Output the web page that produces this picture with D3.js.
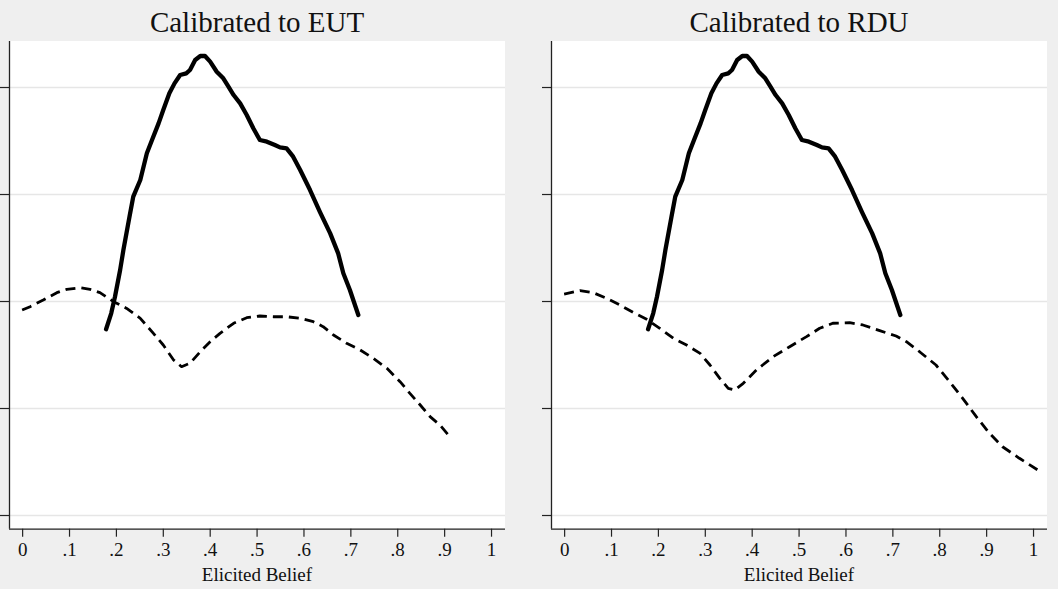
<!DOCTYPE html>
<html>
<head>
<meta charset="utf-8">
<script src="https://cdn.jsdelivr.net/npm/d3@7"></script>
<style>
  html, body { margin: 0; padding: 0; background: #efefef; }
  svg { display: block; }
  text { font-family: "Liberation Serif", "Times New Roman", serif; fill: #111; }
</style>
</head>
<body>
<svg id="chart" width="1058" height="589"></svg>
<script>
// ---------- data ----------
const panelTitles = ["Calibrated to EUT", "Calibrated to RDU"];
const xTickValues = [0, 0.1, 0.2, 0.3, 0.4, 0.5, 0.6, 0.7, 0.8, 0.9, 1];
const xTickLabels = ["0", ".1", ".2", ".3", ".4", ".5", ".6", ".7", ".8", ".9", "1"];
const yTickValues = [0, 1, 2, 3, 4];
const xAxisTitle = "Elicited Belief";

// solid: density of elicited beliefs (same in both panels)
const elicitedX = [0.179, 0.190, 0.198, 0.209, 0.216, 0.229, 0.237, 0.252, 0.266, 0.277, 0.291, 0.301, 0.314, 0.325, 0.337, 0.350, 0.358, 0.369, 0.380, 0.390, 0.401, 0.415, 0.429, 0.440, 0.451, 0.465, 0.479, 0.493, 0.507, 0.522, 0.539, 0.550, 0.564, 0.578, 0.593, 0.614, 0.635, 0.657, 0.674, 0.685, 0.699, 0.717];
const elicitedY = [1.736, 1.885, 2.040, 2.290, 2.477, 2.788, 2.975, 3.131, 3.380, 3.505, 3.660, 3.785, 3.941, 4.034, 4.112, 4.128, 4.159, 4.252, 4.290, 4.290, 4.237, 4.143, 4.081, 4.003, 3.925, 3.847, 3.738, 3.614, 3.505, 3.489, 3.458, 3.436, 3.427, 3.349, 3.224, 3.037, 2.834, 2.632, 2.445, 2.259, 2.103, 1.869];

// dashed: calibrated (EUT)
const eutX = [0.000, 0.017, 0.045, 0.074, 0.095, 0.124, 0.145, 0.166, 0.195, 0.223, 0.252, 0.280, 0.301, 0.323, 0.340, 0.358, 0.380, 0.401, 0.422, 0.451, 0.479, 0.507, 0.536, 0.564, 0.593, 0.621, 0.642, 0.664, 0.692, 0.721, 0.749, 0.778, 0.806, 0.827, 0.849, 0.870, 0.891, 0.909];
const eutY = [1.916, 1.947, 2.009, 2.078, 2.109, 2.124, 2.109, 2.078, 1.994, 1.931, 1.838, 1.698, 1.589, 1.449, 1.386, 1.418, 1.526, 1.620, 1.698, 1.792, 1.844, 1.860, 1.853, 1.853, 1.838, 1.807, 1.760, 1.682, 1.605, 1.542, 1.464, 1.371, 1.246, 1.137, 1.028, 0.919, 0.841, 0.748];

// dashed: calibrated (RDU)
const rduX = [0.000, 0.034, 0.062, 0.091, 0.119, 0.148, 0.176, 0.204, 0.233, 0.261, 0.290, 0.311, 0.332, 0.350, 0.364, 0.382, 0.410, 0.446, 0.481, 0.517, 0.545, 0.573, 0.609, 0.637, 0.673, 0.708, 0.730, 0.758, 0.793, 0.822, 0.850, 0.879, 0.907, 0.935, 0.971, 1.010];
const rduY = [2.065, 2.097, 2.078, 2.025, 1.963, 1.891, 1.829, 1.745, 1.651, 1.589, 1.511, 1.402, 1.277, 1.184, 1.168, 1.231, 1.355, 1.480, 1.573, 1.667, 1.745, 1.792, 1.797, 1.776, 1.723, 1.673, 1.620, 1.526, 1.402, 1.246, 1.090, 0.919, 0.764, 0.638, 0.530, 0.421];

const panelCalibrated = [[eutX, eutY], [rduX, rduY]];

// ---------- drawing ----------
const svg = d3.select("#chart");
const panelLeft = [9, 551];
const plotW = 496;
const plotTop = 41, plotBottom = 528.7;

const zip = (xs, ys) => xs.map((x, i) => [x, ys[i]]);

panelTitles.forEach((title, p) => {
  const g = svg.append("g").attr("transform", `translate(${panelLeft[p]},0)`);
  const x = d3.scaleLinear().domain([-0.028, 1.0298]).range([0, plotW]);
  const y = d3.scaleLinear().domain([-0.128, 4.43]).range([plotBottom, plotTop]);

  g.append("rect").attr("x", 0).attr("y", plotTop).attr("width", plotW)
    .attr("height", plotBottom - plotTop).attr("fill", "#ffffff");

  // gridlines
  g.append("g").attr("class", "grid")
    .call(d3.axisLeft(y).tickValues(yTickValues).tickSize(-plotW).tickFormat(""))
    .call(s => s.select(".domain").remove())
    .call(s => s.selectAll("line").attr("stroke", "#e6e6e6").attr("stroke-width", 1.3));

  // y axis
  g.append("g")
    .call(d3.axisLeft(y).tickValues(yTickValues).tickSize(9).tickFormat(""))
    .call(s => s.select(".domain").attr("stroke", "#222").attr("stroke-width", 1.3)
      .attr("d", `M0.5,${plotTop}V${plotBottom}`))
    .call(s => s.selectAll(".tick line").attr("stroke", "#222").attr("stroke-width", 1.2));

  // x axis
  g.append("g").attr("transform", `translate(0,${plotBottom})`)
    .call(d3.axisBottom(x).tickValues(xTickValues).tickSize(8).tickPadding(6)
      .tickFormat((d, i) => xTickLabels[i]))
    .call(s => s.select(".domain").attr("stroke", "#222").attr("stroke-width", 1.3)
      .attr("d", `M0,0.5H${plotW}`))
    .call(s => s.selectAll(".tick line").attr("stroke", "#222").attr("stroke-width", 1.2))
    .call(s => s.selectAll(".tick text").attr("font-size", 19)
      .attr("font-family", "'Liberation Serif', serif").attr("fill", "#111"));

  // titles
  g.append("text").attr("x", plotW / 2).attr("y", 32).attr("text-anchor", "middle")
    .attr("font-size", 29).text(title);
  g.append("text").attr("x", plotW / 2).attr("y", 581).attr("text-anchor", "middle")
    .attr("font-size", 19).text(xAxisTitle);

  const line = d3.line().x(d => x(d[0])).y(d => y(d[1])).curve(d3.curveLinear);

  g.append("path").datum(zip(panelCalibrated[p][0], panelCalibrated[p][1]))
    .attr("d", line).attr("fill", "none").attr("stroke", "#000")
    .attr("stroke-width", 2.8).attr("stroke-dasharray", "10,6").attr("stroke-linejoin", "round");

  g.append("path").datum(zip(elicitedX, elicitedY))
    .attr("d", line).attr("fill", "none").attr("stroke", "#000")
    .attr("stroke-width", 4.3).attr("stroke-linejoin", "round").attr("stroke-linecap", "round");
});
</script>
</body>
</html>
